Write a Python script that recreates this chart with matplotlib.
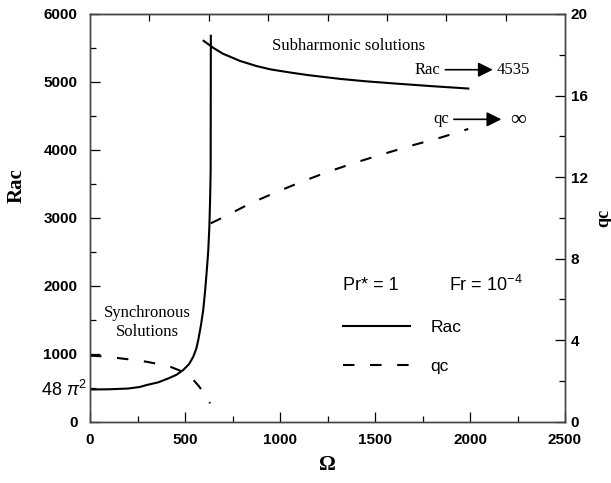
import numpy as np
import matplotlib
matplotlib.use("Agg")
import matplotlib.pyplot as plt
from matplotlib.lines import Line2D
from matplotlib.ticker import MultipleLocator, NullFormatter

plt.rcParams['mathtext.fontset'] = 'custom'
plt.rcParams['mathtext.rm'] = 'Liberation Sans'
plt.rcParams['mathtext.it'] = 'Liberation Sans:italic'

# ---- data ----
omega_sync_rac = [0, 100, 200, 260, 300, 360, 415, 455, 491, 522, 544, 560, 570,
                  584, 596, 605, 614, 622, 628, 632, 635, 636]
rac_sync = [474, 477, 488, 510, 541, 580, 640, 690, 762, 850, 959, 1080, 1205,
            1420, 1648, 1900, 2200, 2500, 2850, 3250, 3700, 5680]

omega_sub_rac = [598, 650, 700, 789, 875, 950, 1053, 1150, 1316, 1450, 1614, 1800, 1991]
rac_sub = [5605, 5500, 5415, 5310, 5235, 5185, 5139, 5100, 5045, 5010, 4975, 4938, 4903]

omega_sync_qc = [0, 80, 158, 230, 298, 360, 421, 470, 509, 544, 575, 605, 632]
qc_sync = [3.24, 3.20, 3.11, 3.03, 2.94, 2.83, 2.70, 2.52, 2.29, 2.05, 1.72, 1.32, 0.90]

omega_sub_qc = [635, 700, 842, 965, 1100, 1250, 1400, 1550, 1702, 1850, 1991]
qc_sub = [9.73, 10.02, 10.7, 11.2, 11.72, 12.25, 12.72, 13.15, 13.57, 13.95, 14.36]

rac_limit = 4535
xticks = [0, 500, 1000, 1500, 2000, 2500]
yticks_left = [0, 1000, 2000, 3000, 4000, 5000, 6000]
yticks_right = [0, 4, 8, 12, 16, 20]
top_ticks = [312.5, 625, 937.5, 1250, 1562.5, 1875, 2187.5]

SERIF = 'Liberation Serif'
SANS = 'Liberation Sans'
DASH = (5.5, 7.5)

fig = plt.figure(figsize=(6.11, 4.83), dpi=100)
ax = fig.add_axes([90/611, 1-421.7/483, 475/611, 407.7/483])
ax2 = ax.twinx()

lw = 1.5
ax.plot(omega_sync_rac, rac_sync, color='black', lw=lw)
ax.plot(omega_sub_rac, rac_sub, color='black', lw=lw)
ax2.plot(omega_sync_qc, qc_sync, color='black', lw=lw, dashes=DASH)
ax2.plot(omega_sub_qc, qc_sub, color='black', lw=lw, dashes=DASH)

ax.set_xlim(0, 2500)
ax.set_ylim(0, 6000)
ax2.set_ylim(0, 20)

ax.set_xticks(xticks)
ax.set_xticklabels([str(v) for v in xticks], fontfamily=SANS, fontweight='bold', fontsize=11)
ax.xaxis.set_minor_locator(MultipleLocator(250))

ax.set_yticks(yticks_left)
ax.set_yticklabels([str(v) for v in yticks_left], fontfamily=SANS, fontweight='bold', fontsize=11)
ax.yaxis.set_minor_locator(MultipleLocator(500))

ax2.set_yticks(yticks_right)
ax2.set_yticklabels([str(v) for v in yticks_right], fontfamily=SANS, fontweight='bold', fontsize=11)
ax2.yaxis.set_minor_locator(MultipleLocator(2))

secx = ax.secondary_xaxis('top')
secx.set_xticks(top_ticks)
secx.xaxis.set_major_formatter(NullFormatter())
secx.tick_params(direction='in', length=5, width=0.9)
secx.spines['top'].set_color('#444444')

for a in (ax, ax2):
    a.tick_params(which='both', direction='in', colors='black')
    a.tick_params(which='major', length=7, width=0.9)
    a.tick_params(which='minor', length=4, width=0.9)
    for s in a.spines.values():
        s.set_color('#444444')
        s.set_linewidth(1.0)
ax.tick_params(axis='x', pad=8)
ax.tick_params(axis='y', pad=9)
ax2.tick_params(axis='y', pad=4)

# 48 pi^2 label on the left axis
ax.text(-0.006, 48*np.pi**2, r'48 $\pi^2$', transform=ax.get_yaxis_transform(),
        fontfamily=SANS, fontsize=13, ha='right', va='center')

ax.set_xlabel('Ω', fontfamily=SERIF, fontweight='bold', fontsize=15, labelpad=6)
ax.set_ylabel('Rac', fontfamily=SERIF, fontweight='bold', fontsize=15)
ax.yaxis.set_label_coords(-0.133, 0.58)
ax2.set_ylabel('qc', fontfamily=SERIF, fontweight='bold', fontsize=13, rotation=90)
ax2.yaxis.set_label_coords(1.064, 0.50)

# annotations
ax.text(1363, 5530, 'Subharmonic solutions', fontfamily=SERIF, fontsize=12,
        ha='center', va='center')
ax.text(300, 1600, 'Synchronous', fontfamily=SERIF, fontsize=12, ha='center', va='center')
ax.text(300, 1313, 'Solutions', fontfamily=SERIF, fontsize=12, ha='center', va='center')

arrow_props = dict(arrowstyle='-|>', color='black', lw=1.2, mutation_scale=22, shrinkA=0, shrinkB=0)
ax.text(1845, 5180, 'Rac', fontfamily=SERIF, fontsize=12, ha='right', va='center')
ax.annotate('', xy=(2120, 5180), xytext=(1870, 5180), arrowprops=arrow_props)
ax.text(2140, 5180, str(rac_limit), fontfamily=SERIF, fontsize=12, ha='left', va='center')

ax.text(1890, 4450, 'qc', fontfamily=SERIF, fontsize=12, ha='right', va='center')
ax.annotate('', xy=(2165, 4450), xytext=(1915, 4450), arrowprops=arrow_props)
ax.text(2210, 4430, '∞', fontfamily=SERIF, fontsize=16, ha='left', va='center')

ax.text(1330, 2010, 'Pr* = 1', fontfamily=SANS, fontsize=13, ha='left', va='center')
ax.text(1890, 2010, 'Fr = 10$^{-4}$', fontfamily=SANS, fontsize=13, ha='left', va='center')

handles = [Line2D([], [], color='black', lw=lw),
           Line2D([], [], color='black', lw=lw, dashes=DASH)]
ax.legend(handles, ['Rac', 'qc'], loc='upper left', bbox_to_anchor=(0.532, 0.250),
          frameon=False, prop={'family': SANS, 'size': 12.5}, handlelength=3.9,
          handletextpad=1.15, labelspacing=1.4, borderpad=0, borderaxespad=0)

fig.savefig('out.png', dpi=100)
